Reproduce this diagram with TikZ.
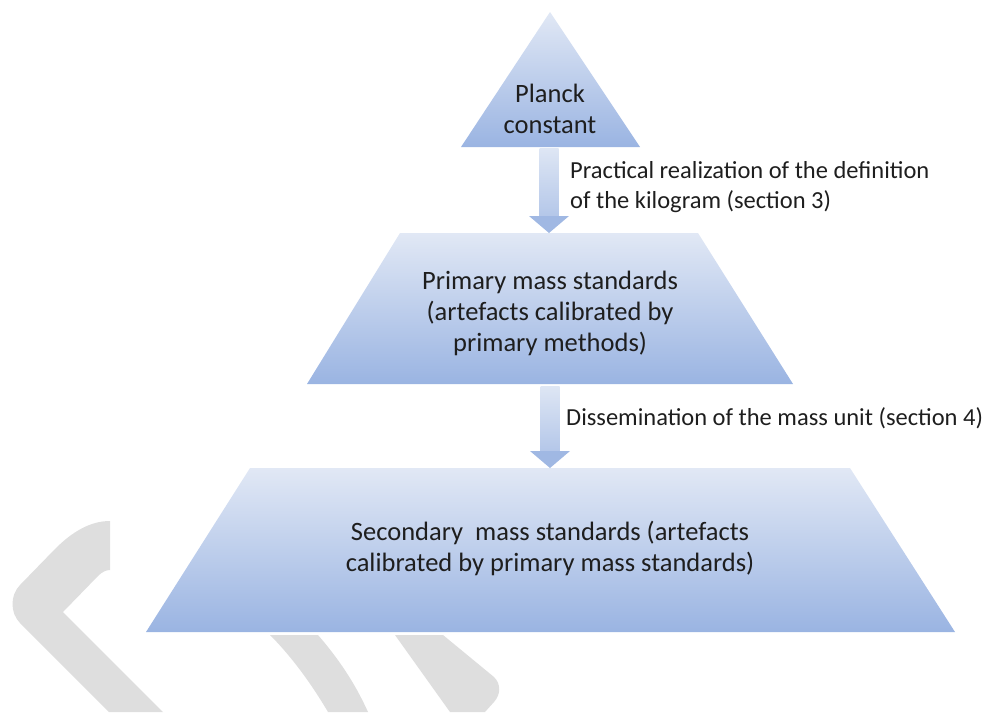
\documentclass[tikz,border=0pt]{standalone}
\usepackage{fontspec}
\setmainfont{Carlito}
\usetikzlibrary{calc}

\definecolor{pyrtop}{RGB}{225,232,245}
\definecolor{pyrbot}{RGB}{154,180,226}
\definecolor{shafttop}{RGB}{222,230,244}
\definecolor{shaftbot}{RGB}{180,199,233}
\definecolor{headcol}{RGB}{160,184,227}
\definecolor{wmgray}{RGB}{222,222,222}
\definecolor{ink}{RGB}{30,30,30}

\begin{document}
\begin{tikzpicture}[x=1pt,y=-1pt,
  level/.style={top color=pyrtop,bottom color=pyrbot,draw=none},
  txt/.style={font=\fontsize{26.5}{31}\selectfont,align=center,text=ink,inner sep=0pt},
  lbl/.style={font=\fontsize{24.5}{30}\selectfont,align=left,anchor=west,text=ink,inner sep=0pt},
  wmark/.style={fill=wmgray}]
\useasboundingbox (0,0) rectangle (984,712);
% Watermark strokes
\fill[wmark] (110,521) .. controls (90,521) and (72,532) .. (55,549) -- (20,585)
  .. controls (10,595) and (10,613) .. (20,623) -- (109,712) -- (163,712) -- (63,612)
  -- (98,576) .. controls (102,572) and (106,570) .. (110,570) -- cycle;
\fill[wmark] (270,635) .. controls (295,660) and (315,690) .. (328,712) -- (368,712)
  .. controls (355,683) and (338,658) .. (318,635) -- cycle;
\fill[wmark] (395,635) -- (450,712) -- (485,712) -- (494,702)
  .. controls (501,694) and (501,684) .. (494,677) -- (443,635) -- cycle;
% Pyramid levels
\shade[level] (550,12) -- (640,147) -- (461,147) -- cycle;
\shade[level] (400,233) -- (698,233) -- (793,384) -- (307,384) -- cycle;
\shade[level] (250,468) -- (850,468) -- (955,632) -- (146,632) -- cycle;
% Anchor points for the arrows
\coordinate (planck-base) at (549,148);
\coordinate (primary-top) at (549,233);
\coordinate (primary-base) at (550,386);
\coordinate (secondary-top) at (550,468);
% Block arrows
\foreach \from/\to in {planck-base/primary-top,primary-base/secondary-top} {
  \shade[top color=shafttop,bottom color=shaftbot] ($(\from)+(-9.5,0)$) rectangle ($(\to)+(9.5,-17)$);
  \fill[headcol] ($(\to)+(-20,-17)$) -- ($(\to)+(20,-17)$) -- (\to) -- cycle;
}
% Texts
\node[txt] (planck) at (550,109) {Planck\\constant};
\node[txt] (primary) at (550,313) {Primary mass standards\\(artefacts calibrated by\\primary methods)};
\node[txt] (secondary) at (550,548) {Secondary\ \ mass standards (artefacts\\calibrated by primary mass standards)};
\node[lbl] (realize) at (570,187) {Practical realization of the definition\\of the kilogram (section 3)};
\node[lbl] (dissem) at (566,418) {Dissemination of the mass unit (section 4)};
\end{tikzpicture}
\end{document}
